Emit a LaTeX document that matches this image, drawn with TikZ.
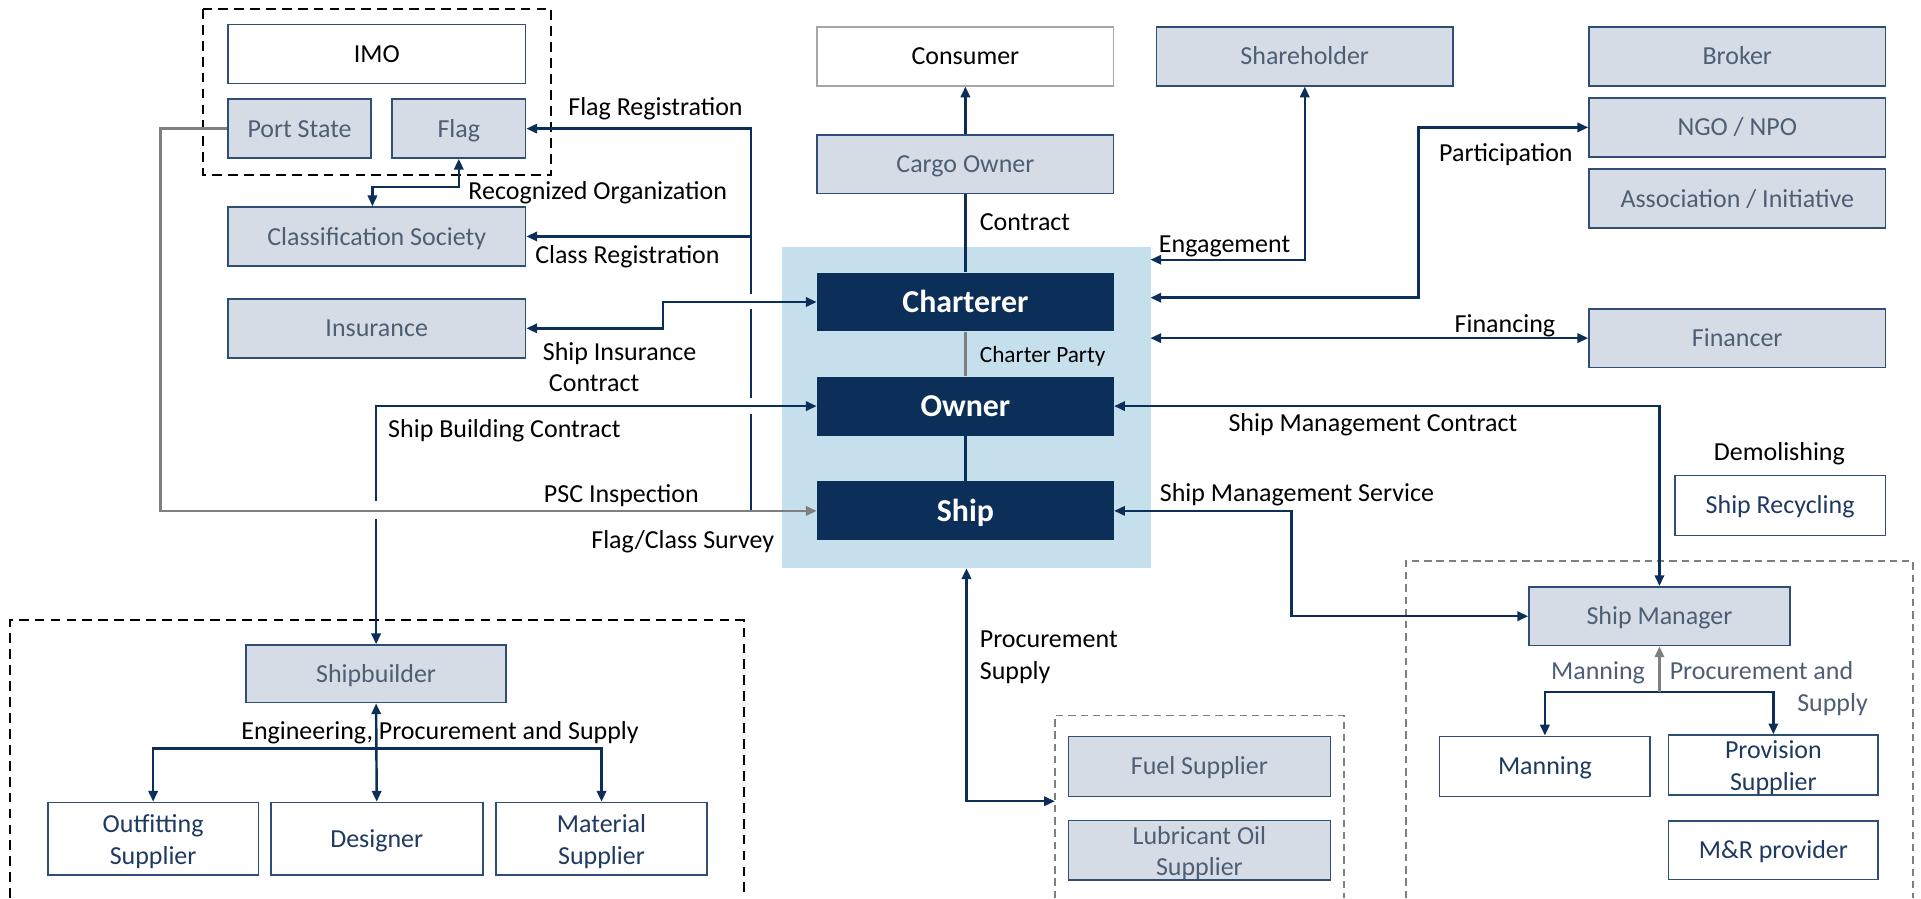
\documentclass[tikz,border=0pt]{standalone}
\usepackage{fontspec}
\setmainfont{Carlito}
\usetikzlibrary{arrows.meta}
\definecolor{navy}{HTML}{0B2F58}
\definecolor{bgblue}{HTML}{C5E0EC}
\definecolor{gfill}{HTML}{D6DCE5}
\definecolor{gborder}{HTML}{2F4E75}
\definecolor{gtext}{HTML}{4E5F75}
\definecolor{wtext}{HTML}{1F3A60}
\definecolor{cgray}{HTML}{A6A6A6}
\definecolor{arrgray}{HTML}{7F7F7F}
\newcommand{\topstrut}{\rule{0pt}{9.6pt}}
\begin{document}
\begin{tikzpicture}[x=0.5pt,y=-0.5pt,>={Triangle[length=4.4pt,width=3.8pt]},
 wh/.style 2 args={minimum width=#1*0.5pt,minimum height=#2*0.5pt},
 base/.style={inner sep=0pt,line width=0.65pt,align=center,font=\fontsize{10.6}{12.9}\selectfont},
 one/.style={text height=9pt,text depth=2pt},
 gbox/.style={base,draw=gborder,fill=gfill,text=gtext},
 wbox/.style={base,draw=gborder,fill=white,text=wtext},
 nbox/.style={inner sep=0pt,fill=navy,text=white,text height=10.4pt,text depth=2pt,font=\fontsize{13}{15}\selectfont\bfseries},
 lbl/.style={inner sep=0pt,anchor=west,text height=9.4pt,text depth=2.4pt,font=\fontsize{10.6}{12.9}\selectfont},
 mlbl/.style={inner sep=0pt,font=\fontsize{10.6}{12.9}\selectfont},
 conn/.style={draw=navy,line width=1pt},
 gconn/.style={draw=arrgray,line width=1pt},
 bdash/.style={draw=black,line width=0.8pt,dash pattern=on 4pt off 2.5pt},
 gdash/.style={draw=arrgray,line width=0.7pt,dash pattern=on 3pt off 2pt},
 cover/.style={draw=white,line width=3pt}]

\useasboundingbox (0,0) rectangle (1568,733);
\fill[white] (0,0) rectangle (1568,733);

% background and groups
\node[fill=bgblue,inner sep=0pt,wh={301}{262},anchor=north west] (bg) at (638,201) {};
\draw[bdash] (165.8,7.3) rectangle (449.8,142.9);
\draw[bdash] (8.3,733) -- (8.3,506) -- (607,506) -- (607,733);
\draw[gdash] (1147.5,733) -- (1147.5,458) -- (1561.5,458) -- (1561.5,733);
\draw[gdash] (861,733) -- (861,584) -- (1097,584) -- (1097,733);

% nodes
\node[wbox,one,draw=cgray,text=black,wh={242}{48}] (consumer) at (788,46) {Consumer};
\node[gbox,one,wh={242}{48}] (cargo) at (788,134) {Cargo Owner};
\node[nbox,wh={242}{48}] (charterer) at (788,246.5) {Charterer};
\node[nbox,wh={242}{48}] (owner) at (788,331.5) {Owner};
\node[nbox,wh={242}{48}] (ship) at (788,417) {Ship};
\node[gbox,one,wh={242}{48}] (shareholder) at (1065,46) {Shareholder};
\node[gbox,one,wh={242}{48}] (broker) at (1418,46) {Broker};
\node[gbox,one,wh={242}{48}] (ngo) at (1418,104) {NGO / NPO};
\node[gbox,one,wh={242}{48}] (assoc) at (1418,162) {Association / Initiative};
\node[gbox,one,wh={242}{48}] (financer) at (1418,276) {Financer};
\node[wbox,one,text=black,wh={243}{48}] (imo) at (307.5,44) {IMO};
\node[gbox,one,wh={117}{48}] (portstate) at (244.5,105) {Port State};
\node[gbox,one,wh={109}{48}] (flag) at (374.5,105) {Flag};
\node[gbox,one,wh={243}{48}] (classsoc) at (307.5,193) {Classification Society};
\node[gbox,one,wh={243}{48}] (insurance) at (307.5,268) {Insurance};
\node[gbox,one,wh={212}{47}] (shipbuilder) at (307,550) {Shipbuilder};
\node[wbox,wh={172}{59}] (outfitting) at (125,684.5) {\topstrut Outfitting\\Supplier};
\node[wbox,one,wh={173}{59}] (designer) at (307.5,684.5) {Designer};
\node[wbox,wh={172}{59}] (material) at (491,684.5) {\topstrut Material\\Supplier};
\node[wbox,one,wh={172}{49}] (shiprecycling) at (1453,412.5) {Ship Recycling};
\node[gbox,one,wh={213}{48}] (shipmanager) at (1354.5,503) {Ship Manager};
\node[wbox,one,wh={172}{49}] (manning) at (1261,625.5) {Manning};
\node[wbox,wh={171}{49}] (provision) at (1447.5,624.5) {\topstrut Provision\\Supplier};
\node[wbox,one,wh={171}{48}] (mr) at (1447.5,694) {M\&R provider};
\node[gbox,one,wh={214}{49}] (fuel) at (979,625.5) {Fuel Supplier};
\node[gbox,wh={214}{48}] (lube) at (979,694) {\topstrut Lubricant Oil\\Supplier};

% centre column
\draw[conn,->] (cargo.north) -- (consumer.south);
\draw[conn] (charterer.north) -- (cargo.south);
\draw[gconn] (charterer.south) -- (owner.north);
\draw[conn] (owner.south) -- (ship.north);

% right side
\coordinate (engE) at (939,212);
\draw[conn,<->] (engE) -| (shareholder.south);
\coordinate (partE) at (939,243);
\draw[conn,<->] (partE) -- (1158,243) |- (ngo.west);
\coordinate (finE) at (939,276);
\draw[conn,<->] (finE) -- (financer.west);
\draw[conn,<->] (owner.east) -| (shipmanager.north);
\draw[conn,<->] (ship.east) -- (1054,417) |- (shipmanager.west);
\path (shipmanager.south) ++(0,37) coordinate (smB);
\draw[conn,<->] (manning.north) |- (smB) -| (provision.north);
\draw[gconn,->] (smB) -- (shipmanager.south);

% procurement
\coordinate (fuelL) at (861,654);
\draw[conn,<->] (bg.south) |- (fuelL);

% left side
\draw[conn,->] (613,417) |- (flag.east);
\draw[conn,->] (613,193) -- (classsoc.east);
\draw[cover] (613,240) -- (613,252);
\draw[cover] (613,325) -- (613,338);
\draw[conn,<->] (insurance.east) -- (541,268) |- (charterer.west);
\draw[conn,<->] (owner.west) -| (shipbuilder.north);
\draw[cover] (307,409) -- (307,424);
\draw[gconn,->] (portstate.west) -- (131,105) |- (ship.west);
\coordinate (ro) at (304,152.5);
\draw[conn,<->] (flag.south) |- (ro) -- (ro |- classsoc.north);

% shipbuilder group
\draw[conn,<->] (designer.north) -- (shipbuilder.south);
\draw[conn,<->] (outfitting.north) |- (307,611) -| (material.north);

% labels
\node[lbl] at (463.5,87) {Flag Registration};
\node[lbl] at (382,155.6) {Recognized Organization};
\node[lbl] at (436.5,208) {Class Registration};
\node[mlbl,anchor=north west,align=left] at (442.7,279) {Ship Insurance\\\hspace*{2.5pt}Contract};
\node[lbl] at (316.5,349.7) {Ship Building Contract};
\node[lbl] at (443.6,403.2) {PSC Inspection};
\node[lbl] at (482.3,440.8) {Flag/Class Survey};
\node[lbl] at (196.6,596.4) {Engineering, Procurement and Supply};
\node[lbl] at (799.4,181.5) {Contract};
\node[lbl,font=\fontsize{9.5}{11}\selectfont] at (799.4,289) {Charter Party};
\node[lbl] at (945.6,199.2) {Engagement};
\node[lbl] at (1174.3,125.2) {Participation};
\node[lbl] at (1187,264) {Financing};
\node[lbl] at (1002.4,345.6) {Ship Management Contract};
\node[lbl] at (1398.6,369.2) {Demolishing};
\node[lbl] at (946.3,402.7) {Ship Management Service};
\node[mlbl,anchor=north west,align=left] at (799.4,514.5) {Procurement\\Supply};
\node[lbl,text=gtext] at (1265.7,547.5) {Manning};
\node[mlbl,anchor=north east,align=right,text=gtext] at (1525,539.5) {Procurement and\kern6pt\\Supply};
\end{tikzpicture}
\end{document}
